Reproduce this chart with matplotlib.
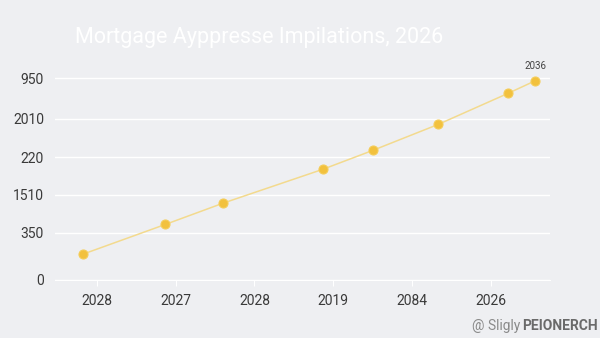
import matplotlib.pyplot as plt

plt.rcParams['font.family'] = ['Roboto', 'DejaVu Sans']

# data (x in tick-index units, y in grid units)
x_labels = ['2028', '2027', '2028', '2019', '2084', '2026']
y_labels = ['0', '350', '1510', '220', '2010', '950']
y_tick_pos = [0, 1.18, 2.13, 3.07, 4.03, 5.05]

x_vals = [-0.17, 0.87, 1.60, 2.87, 3.50, 4.33, 5.22, 5.56]
y_vals = [0.65, 1.39, 1.92, 2.77, 3.24, 3.89, 4.67, 4.98]
last_label = '2036'

bg = '#eeeff2'
fig = plt.figure(figsize=(6, 3.38), dpi=100, facecolor=bg)
ax = fig.add_axes([0.0917, 0.1716, 0.825, 0.627], facecolor=bg)

ax.plot(x_vals, y_vals, color='#f3da8e', lw=1.1, zorder=2)
ax.plot(x_vals, y_vals, 'o', color='#f2c13d', ms=6.5, mec='#f5cd5a', mew=0.8, zorder=3)
ax.annotate(last_label, (x_vals[-1], y_vals[-1]), xytext=(0, 7), textcoords='offset points',
            ha='center', va='bottom', fontsize=7, color='#444444')

ax.set_xlim(-0.53, 5.75)
ax.set_ylim(0, 5.3)
ax.set_xticks(range(len(x_labels)))
ax.set_xticklabels(x_labels)
ax.set_yticks(y_tick_pos)
ax.set_yticklabels(y_labels)
ax.grid(axis='y', color='white', lw=1)
for s in ['top', 'right', 'left']:
    ax.spines[s].set_visible(False)
ax.spines['bottom'].set_color('white')
ax.tick_params(axis='x', colors='white', labelcolor='#3a3a3a', labelsize=10, length=4, pad=6)
ax.tick_params(axis='y', length=0, labelcolor='#3a3a3a', labelsize=10, pad=8)

fig.text(0.125, 0.89, 'Mortgage Ayppresse Impilations, 2026', fontsize=15.5, color='white',
         va='center')
fig.text(0.868, 0.035, '@ Sligly', fontsize=10, color='#8a8a8a', va='center', ha='right')
fig.text(0.997, 0.035, 'PEIONERCH', fontsize=10, color='#6a6a6a', weight='bold', va='center',
         ha='right')

fig.savefig('out.png', dpi=100, facecolor=bg)
